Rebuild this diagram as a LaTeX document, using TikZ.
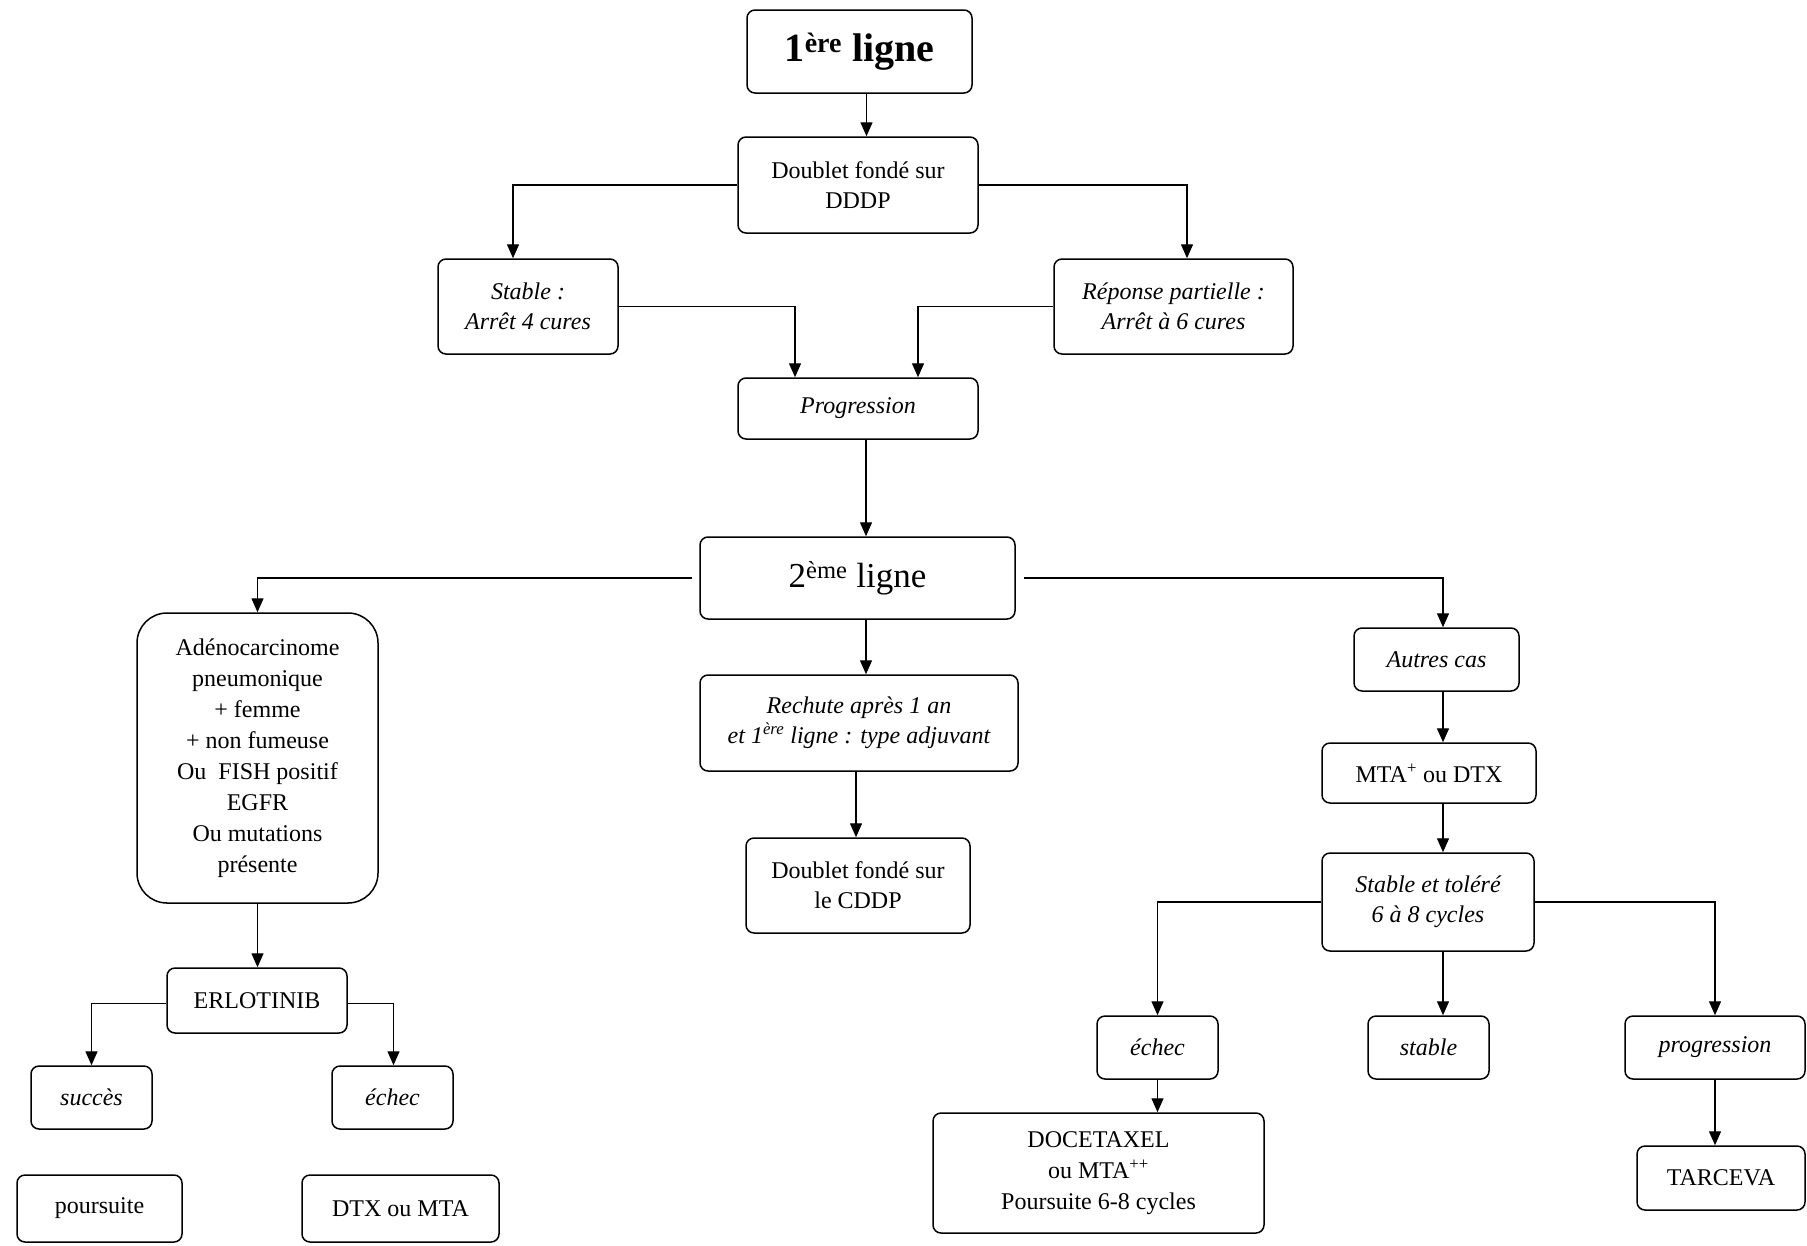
\documentclass[tikz,border=0pt]{standalone}
\usepackage{fontspec}
\setmainfont{Liberation Serif}
\usetikzlibrary{arrows.meta}
\begin{document}
\begin{tikzpicture}[x=1pt,y=-1pt,
  box/.style={draw, line width=1.5pt, rounded corners=8pt, align=center, inner sep=0pt,
    font=\fontsize{24}{30}\selectfont},
  itbox/.style={box, font=\fontsize{24}{30}\selectfont\itshape},
  arr/.style={draw, line width=1.4pt, -{Triangle[length=14pt,width=12pt]}},
]
\useasboundingbox (0,0) rectangle (1807,1245);
% nodes
\node[box, minimum width=225, minimum height=83, font=\fontsize{40}{44}\selectfont\bfseries] (l1) at (859.5,51.5) {1\textsuperscript{ère} ligne};
\node[box, minimum width=240, minimum height=96] (d1) at (858,185) {Doublet fondé sur\\DDDP};
\node[itbox, minimum width=180, minimum height=95] (st) at (528,306.5) {Stable :\\Arrêt 4 cures};
\node[itbox, minimum width=239, minimum height=95] (rp) at (1173.5,306.5) {Réponse partielle :\\Arrêt à 6 cures};
\node[itbox, minimum width=240, minimum height=61] (pg) at (858,408.5) {Progression};
\node[box, minimum width=315, minimum height=82, font=\fontsize{35}{40}\selectfont] (l2) at (857.5,578) {2\textsuperscript{ème} ligne};
\node[box, rounded corners=30pt, minimum width=241, minimum height=290, font=\fontsize{24}{31}\selectfont] (ad) at (257.5,758)
  {Adénocarcinome\\pneumonique\\+ femme\\+ non fumeuse\\Ou~ FISH positif\\EGFR\\Ou mutations\\présente};
\node[itbox, minimum width=318, minimum height=96] (rc) at (859,723) {Rechute après 1 an\\et 1\textsuperscript{ère} ligne : type adjuvant};
\node[box, minimum width=224, minimum height=95] (d2) at (858,885.5) {Doublet fondé sur\\le CDDP};
\node[itbox, minimum width=165, minimum height=63] (au) at (1436.5,659.5) {Autres cas};
\node[box, minimum width=214, minimum height=60] (mt) at (1429,773) {MTA\textsuperscript{+} ou DTX};
\node[itbox, minimum width=212, minimum height=98] (se) at (1428,902) {Stable et toléré\\6 à 8 cycles};
\node[box, minimum width=180, minimum height=65] (er) at (257,1000.5) {ERLOTINIB};
\node[itbox, minimum width=121, minimum height=63] (su) at (91.5,1097.5) {succès};
\node[itbox, minimum width=121, minimum height=63] (e1) at (392.5,1097.5) {échec};
\node[box, minimum width=165, minimum height=67] (po) at (99.5,1208.5) {poursuite};
\node[box, minimum width=197, minimum height=67] (dm) at (400.5,1208.5) {DTX ou MTA};
\node[itbox, minimum width=121, minimum height=63] (e2) at (1157.5,1047.5) {échec};
\node[itbox, minimum width=121, minimum height=63] (sb) at (1428.5,1047.5) {stable};
\node[itbox, minimum width=180, minimum height=63] (pr) at (1715,1047.5) {progression};
\node[box, minimum width=331, minimum height=120, font=\fontsize{24}{31}\selectfont] (dc) at (1098.5,1173) {DOCETAXEL\\ou MTA\textsuperscript{++}\\Poursuite 6-8 cycles};
\node[box, minimum width=168, minimum height=64] (ta) at (1721,1178) {TARCEVA};
% connectors
\draw[arr] ([xshift=7pt]l1.south) -- ([xshift=7pt]l1.south |- d1.north);
\draw[arr] (d1.west) -| ([xshift=-15pt]st.north);
\draw[arr] (d1.east) -| ([xshift=13.5pt]rp.north);
\draw[arr] (st.east) -| ([xshift=-63pt]pg.north);
\draw[arr] (rp.west) -| ([xshift=60pt]pg.north);
\draw[arr] ([xshift=8pt]pg.south) -- ([xshift=8pt]pg.south |- l2.north);
\draw[arr, shorten <=7pt] (l2.west) -| (ad.north);
\draw[arr, shorten <=8pt] (l2.east) -| ([xshift=6.5pt]au.north);
\draw[arr] ([xshift=8.5pt]l2.south) -- ([xshift=8.5pt]l2.south |- rc.north);
\draw[arr] ([xshift=-3pt]rc.south) -- ([xshift=-3pt]rc.south |- d2.north);
\draw[arr] (ad.south) -- (ad.south |- er.north);
\draw[arr] ([yshift=-3pt]er.west) -| (su.north);
\draw[arr] ([yshift=-3pt]er.east) -| ([xshift=1pt]e1.north);
\draw[arr] ([xshift=6.5pt]au.south) -- ([xshift=6.5pt]au.south |- mt.north);
\draw[arr] ([xshift=14pt]mt.south) -- ([xshift=14pt]mt.south |- se.north);
\draw[arr] (se.west) -| (e2.north);
\draw[arr] ([xshift=15pt]se.south) -- ([xshift=15pt]se.south |- sb.north);
\draw[arr] (se.east) -| (pr.north);
\draw[arr] (e2.south) -- (e2.south |- dc.north);
\draw[arr] (pr.south) -- (pr.south |- ta.north);
\end{tikzpicture}
\end{document}
